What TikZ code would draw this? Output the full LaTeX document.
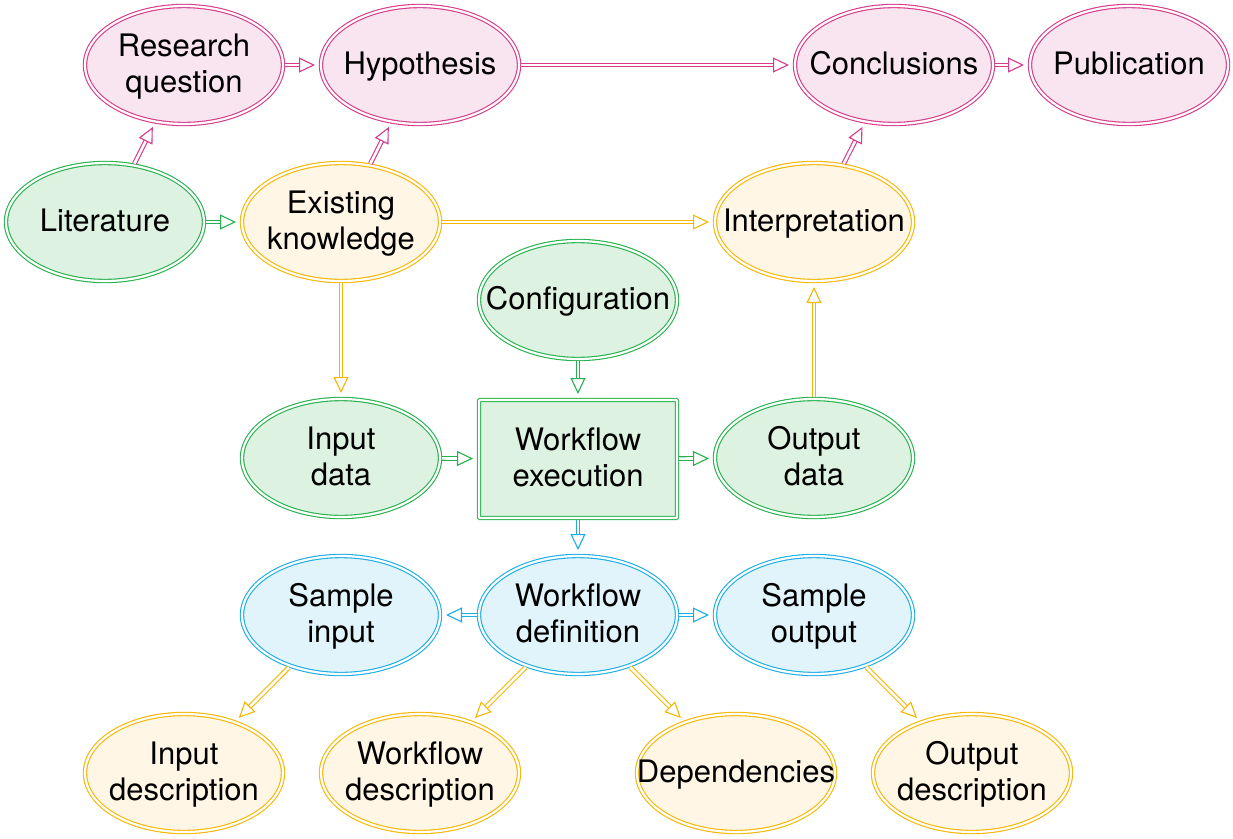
\documentclass[tikz,border=0pt]{standalone}
\usepackage{fontspec}
\setmainfont{TeX Gyre Heros}
\usetikzlibrary{shapes.geometric,arrows.meta}
\definecolor{pinkS}{HTML}{D9398A}
\definecolor{pinkF}{HTML}{F9E5EF}
\definecolor{greenS}{HTML}{25B24E}
\definecolor{greenF}{HTML}{DDF2E1}
\definecolor{yelS}{HTML}{F7B600}
\definecolor{yelF}{HTML}{FFF6E5}
\definecolor{blueS}{HTML}{1BAEE4}
\definecolor{blueF}{HTML}{E1F4FB}
\newcommand\lstr{\rule[-8.5pt]{0pt}{36pt}}
\tikzset{
  lab/.style={align=center, font=\fontsize{31}{36}\selectfont, inner sep=0pt},
  box/.style={ellipse, minimum width=198pt, minimum height=118pt, inner sep=0pt,
    line width=1.1pt, double=white, double distance=2.2pt, outer sep=2pt,
    label={[lab]center:#1}},
  pinkn/.style={box=#1, draw=pinkS, fill=pinkF},
  greenn/.style={box=#1, draw=greenS, fill=greenF},
  yeln/.style={box=#1, draw=yelS, fill=yelF},
  bluen/.style={box=#1, draw=blueS, fill=blueF},
  arr/.style={line width=1.1pt, double=white, double distance=2.6pt,
    -{Triangle[length=16pt,width=15pt,fill=white,line width=1.1pt]}, shorten >=4pt},
  parr/.style={arr, draw=pinkS},
  garr/.style={arr, draw=greenS},
  yarr/.style={arr, draw=yelS},
  barr/.style={arr, draw=blueS},
}
\begin{document}
\begin{tikzpicture}[x=1pt,y=-1pt]
\useasboundingbox (0,0) rectangle (1233,838);
\node[pinkn={\lstr Research\\\lstr question}] (rq) at (184,65) {};
\node[pinkn={\lstr Hypothesis}] (hyp) at (420,65) {};
\node[pinkn={\lstr Conclusions}] (conc) at (894,65) {};
\node[pinkn={\lstr Publication}] (pub) at (1129,65) {};
\node[greenn={\lstr Literature}] (lit) at (105,222) {};
\node[yeln={\lstr Existing\\\lstr knowledge}] (ek) at (341,222) {};
\node[yeln={\lstr Interpretation}] (interp) at (814,222) {};
\node[greenn={\lstr Configuration}] (conf) at (578,300) {};
\node[greenn={\lstr Input\\\lstr data}] (ind) at (341,458) {};
\node[greenn={\lstr Workflow\\\lstr execution}, rectangle, rounded corners=1pt] (we) at (578,459) {};
\node[greenn={\lstr Output\\\lstr data}] (outd) at (814,458) {};
\node[bluen={\lstr Sample\\\lstr input}] (si) at (341,615) {};
\node[bluen={\lstr Workflow\\\lstr definition}] (wd) at (578,615) {};
\node[bluen={\lstr Sample\\\lstr output}] (so) at (814,615) {};
\node[yeln={\lstr Input\\\lstr description}] (idesc) at (184,773) {};
\node[yeln={\lstr Workflow\\\lstr description}] (wdesc) at (420,773) {};
\node[yeln={\lstr Dependencies}] (dep) at (736,773) {};
\node[yeln={\lstr Output\\\lstr description}] (odesc) at (972,773) {};

\draw[parr] (rq) -- (hyp);
\draw[parr] (hyp) -- (conc);
\draw[parr] (conc) -- (pub);
\draw[parr] (lit) -- (rq);
\draw[parr] (ek) -- (hyp);
\draw[parr] (interp) -- (conc);
\draw[garr] (lit) -- (ek);
\draw[yarr] (ek) -- (interp);
\draw[yarr] (ek) -- (ind);
\draw[garr] (conf) -- (we);
\draw[garr] (ind) -- (we);
\draw[garr] (we) -- (outd);
\draw[yarr] (outd) -- (interp);
\draw[barr] (we) -- (wd);
\draw[barr] (wd) -- (si);
\draw[barr] (wd) -- (so);
\draw[yarr] (si) -- (idesc);
\draw[yarr] (wd) -- (wdesc);
\draw[yarr] (wd) -- (dep);
\draw[yarr] (so) -- (odesc);
\end{tikzpicture}
\end{document}
